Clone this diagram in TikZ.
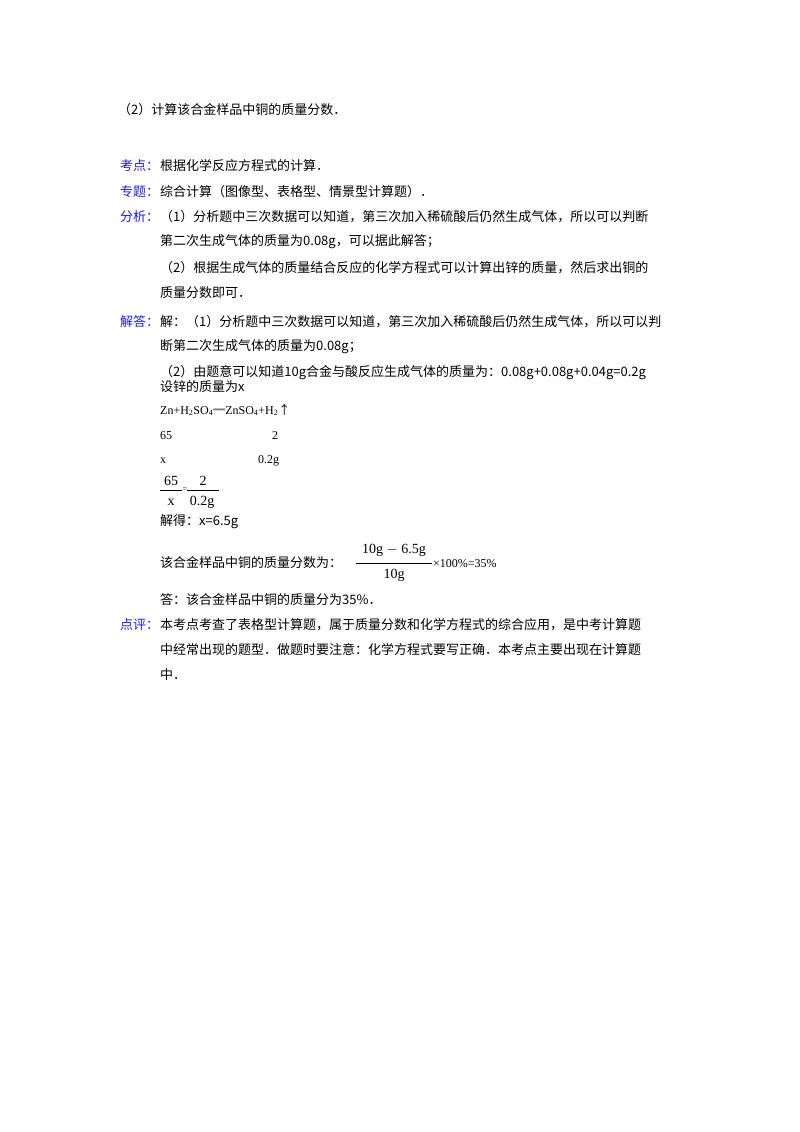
\documentclass[tikz,border=0pt]{standalone}
\usepackage{fontspec}
\setmainfont{Liberation Serif}
\newfontfamily\cjk{Noto Sans CJK SC}
\definecolor{lab}{RGB}{30,30,210}
\begin{document}
\begin{tikzpicture}[x=1pt,y=-1pt,
  t/.style={anchor=west,inner sep=0pt,font=\cjk\fontsize{13}{14}\selectfont},
  l/.style={t,text=lab},
  s/.style={anchor=west,inner sep=0pt,font=\fontsize{12}{13}\selectfont}]
\useasboundingbox[fill=white] (0,0) rectangle (800,1132);
\node[t] (q) at (118,110) {（2）计算该合金样品中铜的质量分数．};
\node[l] (k1) at (120,166) {考点：};
\node[t] (k2) at (160,166) {根据化学反应方程式的计算．};
\node[l] (z1) at (120,192) {专题：};
\node[t] (z2) at (160,192) {综合计算（图像型、表格型、情景型计算题）．};
\node[l] (f1) at (120,217) {分析：};
\node[t] (f2) at (160,217) {（1）分析题中三次数据可以知道，第三次加入稀硫酸后仍然生成气体，所以可以判断};
\node[t] (f3) at (160,242) {第二次生成气体的质量为0.08g，可以据此解答；};
\node[t] (f4) at (160,268) {（2）根据生成气体的质量结合反应的化学方程式可以计算出锌的质量，然后求出铜的};
\node[t] (f5) at (160,293) {质量分数即可．};
\node[l] (j1) at (120,322) {解答：};
\node[t] (j2) at (160,322) {解：（1）分析题中三次数据可以知道，第三次加入稀硫酸后仍然生成气体，所以可以判};
\node[t] (j3) at (160,347) {断第二次生成气体的质量为0.08g；};
\node[t] (j4) at (160,373) {（2）由题意可以知道10g合金与酸反应生成气体的质量为：0.08g+0.08g+0.04g=0.2g};
\node[t] (j5) at (160,387) {设锌的质量为x};
\node[s] (eq) at (160,410) {Zn+H\textsubscript{2}SO\textsubscript{4}{\cjk ═}ZnSO\textsubscript{4}+H\textsubscript{2}{\cjk ↑}};
\node[s] (a1) at (160,436) {65};
\node[s] (a2) at (272,436) {2};
\node[s] (b1) at (160,461) {x};
\node[s] (b2) at (258,461) {0.2g};
\node[s,anchor=center,font=\fontsize{14}{15}\selectfont] (n1) at (171,481) {65};
\node[s,anchor=center,font=\fontsize{14}{15}\selectfont] (d1) at (171,502) {x};
\draw (160,490) -- (182,490);
\node[s,anchor=center,font=\fontsize{8}{9}\selectfont] (eqs) at (185,490) {=};
\node[s,anchor=center,font=\fontsize{14}{15}\selectfont] (n2) at (203,481) {2};
\node[s,anchor=center,font=\fontsize{14}{15}\selectfont] (d2) at (202,502) {0.2g};
\draw (187,490) -- (219,490);
\node[t] (r1) at (160,522) {解得：x=6.5g};
\node[t] (p1) at (160,563) {该合金样品中铜的质量分数为：};
\node[s,anchor=center,font=\fontsize{14}{15}\selectfont] (pn) at (394,550) {10g $-$ 6.5g};
\node[s,anchor=center,font=\fontsize{14}{15}\selectfont] (pd) at (394,575) {10g};
\draw (356,563) -- (432,563);
\node[s] (pr) at (433,564) {×100\%=35\%};
\node[t] (ans) at (160,600) {答：该合金样品中铜的质量分为35\%．};
\node[l] (d0) at (120,625) {点评：};
\node[t] (dp1) at (160,625) {本考点考查了表格型计算题，属于质量分数和化学方程式的综合应用，是中考计算题};
\node[t] (dp2) at (160,650) {中经常出现的题型．做题时要注意：化学方程式要写正确．本考点主要出现在计算题};
\node[t] (dp3) at (160,675) {中．};
\end{tikzpicture}
\end{document}
